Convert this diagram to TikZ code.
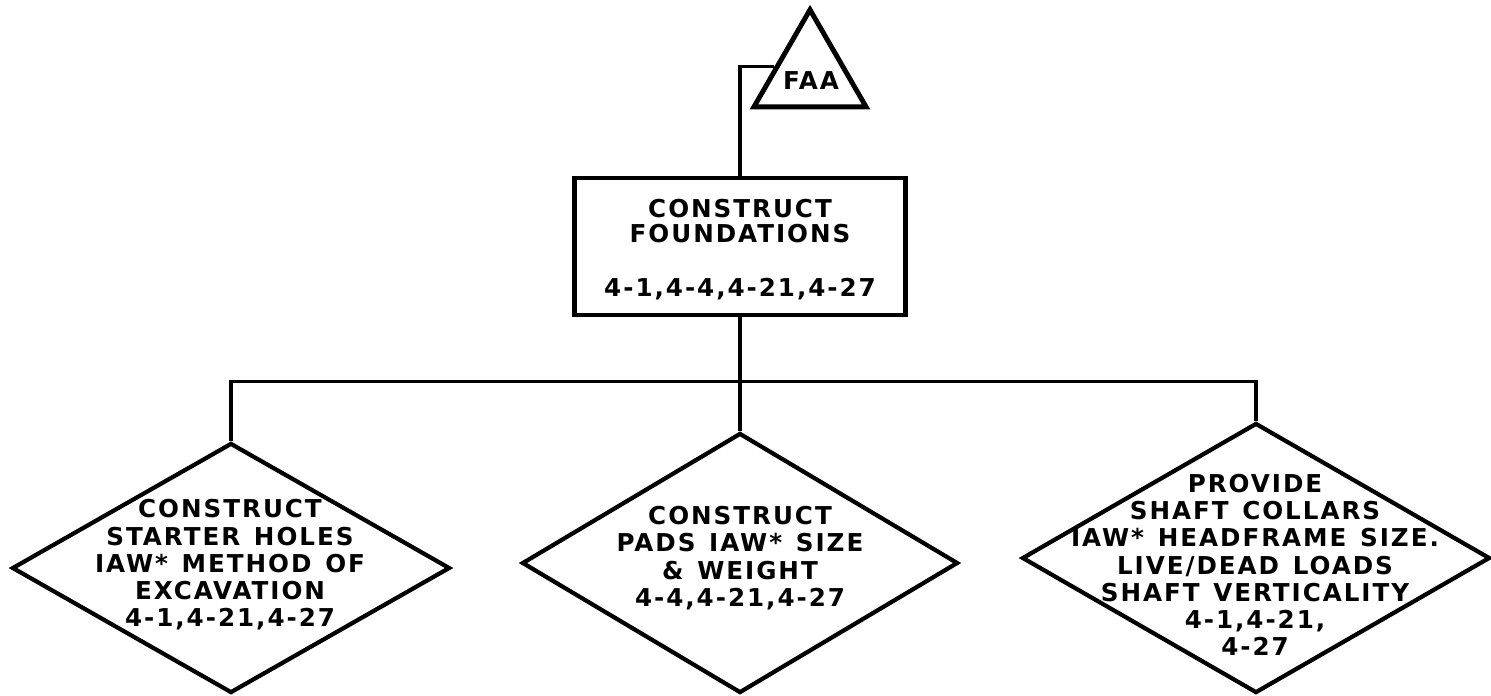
\documentclass[tikz,border=0pt]{standalone}
\usepackage{fontspec}
\setmainfont{DejaVu Sans}[LetterSpace=8,WordSpace=1.3]
\usetikzlibrary{shapes.geometric,calc}

\begin{document}
\begin{tikzpicture}[line join=miter,
		box/.style={draw, line width=2.8pt, minimum width=6.62cm, minimum height=2.74cm, inner sep=0pt},
		step diamond/.style={draw, diamond, line width=2.4pt, inner sep=0pt},
		txt/.style={align=center, font=\bfseries\fontsize{14}{15.5}\selectfont},
		link/.style={line width=2.2pt}]
	\useasboundingbox (0,0) rectangle (29.82,-13.9);
			% top of the tree
			\node[draw, regular polygon, regular polygon sides=3, minimum size=2.59cm, line width=2.8pt, inner sep=0pt] (faa) at (16.2,-1.49) {};
			\node[txt] (faatxt) at (16.22,-1.62) {FAA};
			\node[box] (found) at (14.8,-4.93) {};
			\node[txt, font=\bfseries\fontsize{14}{14.5}\selectfont] (foundtxt) at ([yshift=-0.06cm]found.center) {CONSTRUCT\\FOUNDATIONS\\[16pt]4-1,4-4,4-21,4-27};
			\draw[link] ($(faa.corner 2)!0.41!(faa.corner 1)$) -| (found.north);
			
			% bus line
			\coordinate (bus) at (0,-7.63);
			
			% the three steps below
			\node[step diamond, minimum width=8.76cm, minimum height=5.0cm] (d1) at (4.62,-11.36) {};
			\node[step diamond, minimum width=8.72cm, minimum height=5.2cm] (d2) at (14.8,-11.26) {};
			\node[step diamond, minimum width=9.36cm, minimum height=5.4cm] (d3) at (25.12,-11.16) {};
			\node[txt] (t1) at (4.6,-11.3) {CONSTRUCT\\STARTER HOLES\\IAW* METHOD OF\\EXCAVATION\\4-1,4-21,4-27};
			\node[txt] (t2) at (14.8,-11.16) {CONSTRUCT\\PADS IAW* SIZE\\\& WEIGHT\\4-4,4-21,4-27};
			\node[txt] (t3) at (25.1,-11.3) {PROVIDE\\SHAFT COLLARS\\IAW* HEADFRAME SIZE.\\LIVE/DEAD LOADS\\SHAFT VERTICALITY\\4-1,4-21,\\4-27};
			
			\draw[link] (found.south) -- (found.south |- bus);
			\draw[link] (d1.north) -- (d1.north |- bus) -- (d3.north |- bus) -- (d3.north);
			\draw[link] (d2.north) -- (d2.north |- bus);
\end{tikzpicture}
\end{document}
